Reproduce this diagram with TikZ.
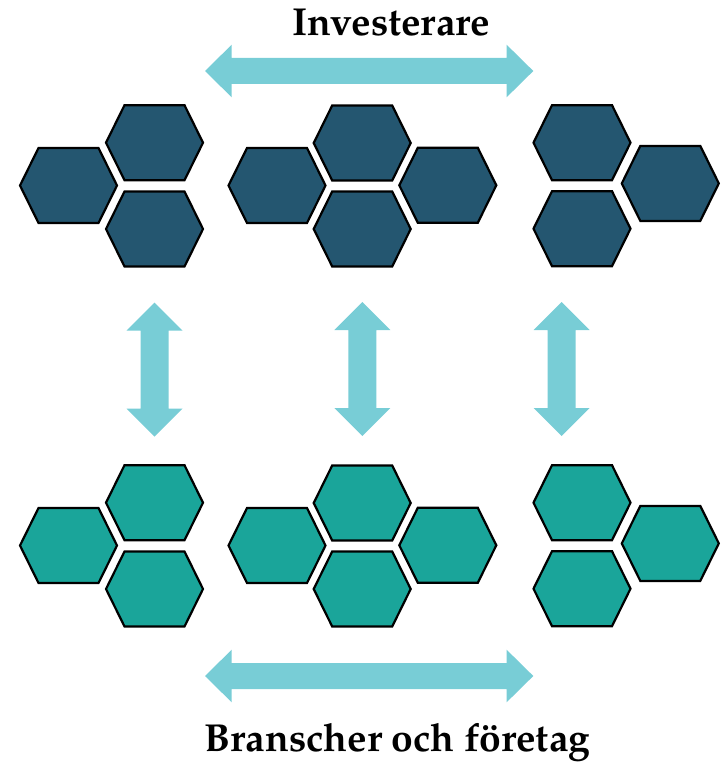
\documentclass[tikz,border=0pt]{standalone}
\usepackage{fontspec}
\setmainfont{TeX Gyre Pagella}
\definecolor{navy}{HTML}{245670}
\definecolor{tealc}{HTML}{1AA59A}
\definecolor{arrowc}{HTML}{78CDD6}
\tikzset{
  hexstyle/.style={draw=black, line width=2.2pt, line join=miter},
  arrowfill/.style={fill=arrowc, draw=none},
  lbl/.style={font=\bfseries\fontsize{39}{44}\selectfont, inner sep=0pt, anchor=base}
}
% hexagon: center (x,y), fill colour
\newcommand{\hexat}[4]{%
  \path[hexstyle, fill=#3] (#1-48.5,#2) -- (#1-30,#2-37.5) -- (#1+30,#2-37.5) -- (#1+48.5,#2)
     -- (#1+30,#2+37.5) -- (#1-30,#2+37.5) -- cycle;
  \coordinate (#4) at (#1,#2);}
% horizontal double arrow: y, x-left tip, x-right tip
\newcommand{\harrow}[3]{%
  \path[arrowfill] (#2,#1) -- (#2+26.7,#1-26.3) -- (#2+26.7,#1-13) -- (#3-26.7,#1-13) -- (#3-26.7,#1-26.3)
     -- (#3,#1) -- (#3-26.7,#1+26.3) -- (#3-26.7,#1+13) -- (#2+26.7,#1+13) -- (#2+26.7,#1+26.3) -- cycle;}
% vertical double arrow: x, y-top tip, y-bottom tip
\newcommand{\varrow}[3]{%
  \path[arrowfill] (#1,#2) -- (#1+28,#2+28) -- (#1+14,#2+28) -- (#1+14,#3-28) -- (#1+28,#3-28)
     -- (#1,#3) -- (#1-28,#3-28) -- (#1-14,#3-28) -- (#1-14,#2+28) -- (#1-28,#2+28) -- cycle;}
\begin{document}
\begin{tikzpicture}[x=1pt,y=-1pt]
\useasboundingbox (0,0) rectangle (722,765);
% top text and arrow
\node[lbl] (inv) at (391.5,36) {Investerare};
\harrow{71}{205}{533.3}
% hexagon clusters (top row navy, bottom row teal)
\foreach \dy/\col/\r in {0/navy/t, 360/tealc/b}{
  \hexat{68.5}{185.5+\dy}{\col}{\r a1}
  \hexat{154.5}{142.7+\dy}{\col}{\r a2}
  \hexat{154.5}{229+\dy}{\col}{\r a3}
  \hexat{277}{185.5+\dy}{\col}{\r b1}
  \hexat{362.2}{143+\dy}{\col}{\r b2}
  \hexat{362.2}{229+\dy}{\col}{\r b3}
  \hexat{447.8}{185.3+\dy}{\col}{\r b4}
  \hexat{582}{142.7+\dy}{\col}{\r c1}
  \hexat{582}{228.7+\dy}{\col}{\r c2}
  \hexat{670.3}{183.4+\dy}{\col}{\r c3}
}
% vertical arrows
\varrow{154.5}{302.5}{436.5}
\varrow{362.3}{302}{436}
\varrow{561.7}{302}{436}
% bottom arrow and text
\harrow{676}{205}{533.3}
\node[lbl] (bra) at (397.5,751.7) {Branscher och företag};
\end{tikzpicture}
\end{document}
